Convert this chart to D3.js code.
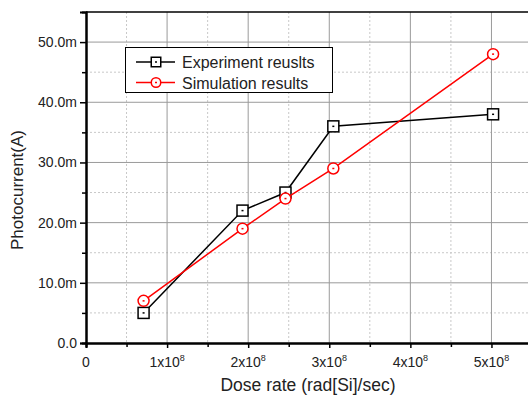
<!DOCTYPE html>
<html>
<head>
<meta charset="utf-8">
<script src="https://cdn.jsdelivr.net/npm/d3@7"></script>
<style>
  html, body { margin: 0; padding: 0; background: #fff; }
  svg { display: block; font-family: Arial, "Liberation Sans", sans-serif; }
</style>
</head>
<body>
<div id="chart"></div>
<script>
"use strict";

// ---------------------------------------------------------------------------
// Data
// ---------------------------------------------------------------------------

const doseRates = [0.71e8, 1.93e8, 2.46e8, 3.05e8, 5.02e8];
const experiment = [5.0e-3, 22.0e-3, 25.0e-3, 36.0e-3, 38.0e-3];
const simulation = [7.0e-3, 19.0e-3, 24.0e-3, 29.0e-3, 48.0e-3];

const xTicks = [0, 1e8, 2e8, 3e8, 4e8, 5e8];
const xMinor = [0.5e8, 1.5e8, 2.5e8, 3.5e8, 4.5e8, 5.5e8];
const yTicks = [0, 10e-3, 20e-3, 30e-3, 40e-3, 50e-3];
const yTickLabels = ["0.0", "10.0m", "20.0m", "30.0m", "40.0m", "50.0m"];
const yMinor = [5e-3, 15e-3, 25e-3, 35e-3, 45e-3];
const seriesNames = ["Experiment reuslts", "Simulation results"];

// ---------------------------------------------------------------------------
// Layout
// ---------------------------------------------------------------------------

const width = 528;
const height = 402;
const plotLeft = 86, plotTop = 12, plotBottom = 343, plotRight = 532;

const x = d3.scaleLinear().domain([0, 5.5e8]).range([plotLeft, plotRight]);
const y = d3.scaleLinear().domain([0, 55e-3]).range([plotBottom, plotTop]);

const svg = d3.select("#chart").append("svg")
  .attr("width", width)
  .attr("height", height);

// ---------------------------------------------------------------------------
// Grid
// ---------------------------------------------------------------------------

const grid = svg.append("g");

grid.selectAll(".xminor").data(xMinor).join("line")
  .attr("x1", d => x(d)).attr("x2", d => x(d))
  .attr("y1", plotTop).attr("y2", plotBottom)
  .attr("stroke", "#c8c8c8").attr("stroke-dasharray", "2,2");

grid.selectAll(".yminor").data(yMinor).join("line")
  .attr("x1", plotLeft).attr("x2", plotRight)
  .attr("y1", d => y(d)).attr("y2", d => y(d))
  .attr("stroke", "#c8c8c8").attr("stroke-dasharray", "2,2");

grid.selectAll(".xmajor").data(xTicks.slice(1)).join("line")
  .attr("x1", d => x(d)).attr("x2", d => x(d))
  .attr("y1", plotTop).attr("y2", plotBottom)
  .attr("stroke", "#9a9a9a");

grid.selectAll(".ymajor").data(yTicks.slice(1).concat([55e-3])).join("line")
  .attr("x1", plotLeft).attr("x2", plotRight)
  .attr("y1", d => y(d)).attr("y2", d => y(d))
  .attr("stroke", d => d === 55e-3 ? "#000" : "#9a9a9a")
  .attr("stroke-width", d => d === 55e-3 ? 1.5 : 1);

// ---------------------------------------------------------------------------
// Axes
// ---------------------------------------------------------------------------

const xAxis = svg.append("g").attr("transform", `translate(0,${plotBottom})`);
xAxis.call(d3.axisBottom(x).tickValues(xTicks).tickSize(5).tickFormat(""));
xAxis.append("g").call(d3.axisBottom(x).tickValues(xMinor).tickSize(4).tickFormat(""));
xAxis.selectAll("path.domain").attr("stroke-width", 2).attr("stroke", "#000");
xAxis.selectAll(".tick line").attr("stroke-width", 1.5);

xAxis.selectAll(".xlab").data(xTicks).join("text")
  .attr("x", d => x(d))
  .attr("y", 24)
  .attr("text-anchor", "middle")
  .attr("font-size", 14)
  .attr("fill", "#222")
  .each(function (d) {
    const t = d3.select(this);
    if (d === 0) { t.text("0"); return; }
    t.append("tspan").text(`${d / 1e8}x10`);
    t.append("tspan").attr("font-size", 9).attr("dy", -6).text("8");
  });

const yAxis = svg.append("g").attr("transform", `translate(${plotLeft},0)`);
yAxis.call(d3.axisLeft(y).tickValues(yTicks).tickSize(6)
  .tickFormat((d, i) => yTickLabels[i]));
yAxis.append("g").call(d3.axisLeft(y).tickValues(yMinor).tickSize(4).tickFormat(""));
yAxis.selectAll("path.domain").attr("stroke-width", 2).attr("stroke", "#000");
yAxis.selectAll(".tick line").attr("stroke-width", 1.5);
yAxis.selectAll(".tick text")
  .attr("font-size", 14)
  .attr("font-family", "Arial, 'Liberation Sans', sans-serif")
  .attr("fill", "#222")
  .attr("x", -9);

svg.append("text")
  .attr("x", 308).attr("y", 391)
  .attr("text-anchor", "middle")
  .attr("font-size", 17.5)
  .attr("fill", "#222")
  .text("Dose rate (rad[Si]/sec)");

svg.append("text")
  .attr("transform", "translate(23,190) rotate(-90)")
  .attr("text-anchor", "middle")
  .attr("font-size", 17)
  .attr("fill", "#222")
  .text("Photocurrent(A)");

// ---------------------------------------------------------------------------
// Series
// ---------------------------------------------------------------------------

const line = d3.line().x(d => x(d[0])).y(d => y(d[1]));

function drawSquare(g, cx, cy, size) {
  const h = size / 2;
  g.append("rect")
    .attr("x", cx - h).attr("y", cy - h)
    .attr("width", size).attr("height", size)
    .attr("fill", "#fff").attr("stroke", "#000").attr("stroke-width", 1.5);
  g.append("rect")
    .attr("x", cx - 1).attr("y", cy - 0.75)
    .attr("width", 2).attr("height", 1.5).attr("fill", "#000");
}

function drawCircle(g, cx, cy, size) {
  g.append("circle")
    .attr("cx", cx).attr("cy", cy).attr("r", size / 2)
    .attr("fill", "#fff").attr("stroke", "#ff0000").attr("stroke-width", 1.5);
  g.append("rect")
    .attr("x", cx - 1).attr("y", cy - 0.75)
    .attr("width", 2).attr("height", 1.5).attr("fill", "#ff0000");
}

const series = [
  { name: seriesNames[0], values: experiment, color: "#000", marker: drawSquare },
  { name: seriesNames[1], values: simulation, color: "#ff0000", marker: drawCircle },
];

series.forEach(s => {
  const pts = doseRates.map((d, i) => [d, s.values[i]]);
  svg.append("path")
    .datum(pts)
    .attr("d", line)
    .attr("fill", "none")
    .attr("stroke", s.color)
    .attr("stroke-width", 1.5);
  const mg = svg.append("g");
  pts.forEach(p => s.marker(mg, x(p[0]), y(p[1]), 11));
});

// ---------------------------------------------------------------------------
// Legend
// ---------------------------------------------------------------------------

const legend = svg.append("g");
legend.append("rect")
  .attr("x", 125.5).attr("y", 47.5)
  .attr("width", 207).attr("height", 45)
  .attr("fill", "#fff").attr("stroke", "#000").attr("stroke-width", 1);

series.forEach((s, i) => {
  const ly = 62 + i * 20.5;
  legend.append("line")
    .attr("x1", 136).attr("x2", 175)
    .attr("y1", ly).attr("y2", ly)
    .attr("stroke", s.color).attr("stroke-width", 1.5);
  s.marker(legend, 156, ly, 9.5);
  legend.append("text")
    .attr("x", 182).attr("y", ly + 6)
    .attr("font-size", 16)
    .attr("fill", "#222")
    .text(s.name);
});
</script>
</body>
</html>
